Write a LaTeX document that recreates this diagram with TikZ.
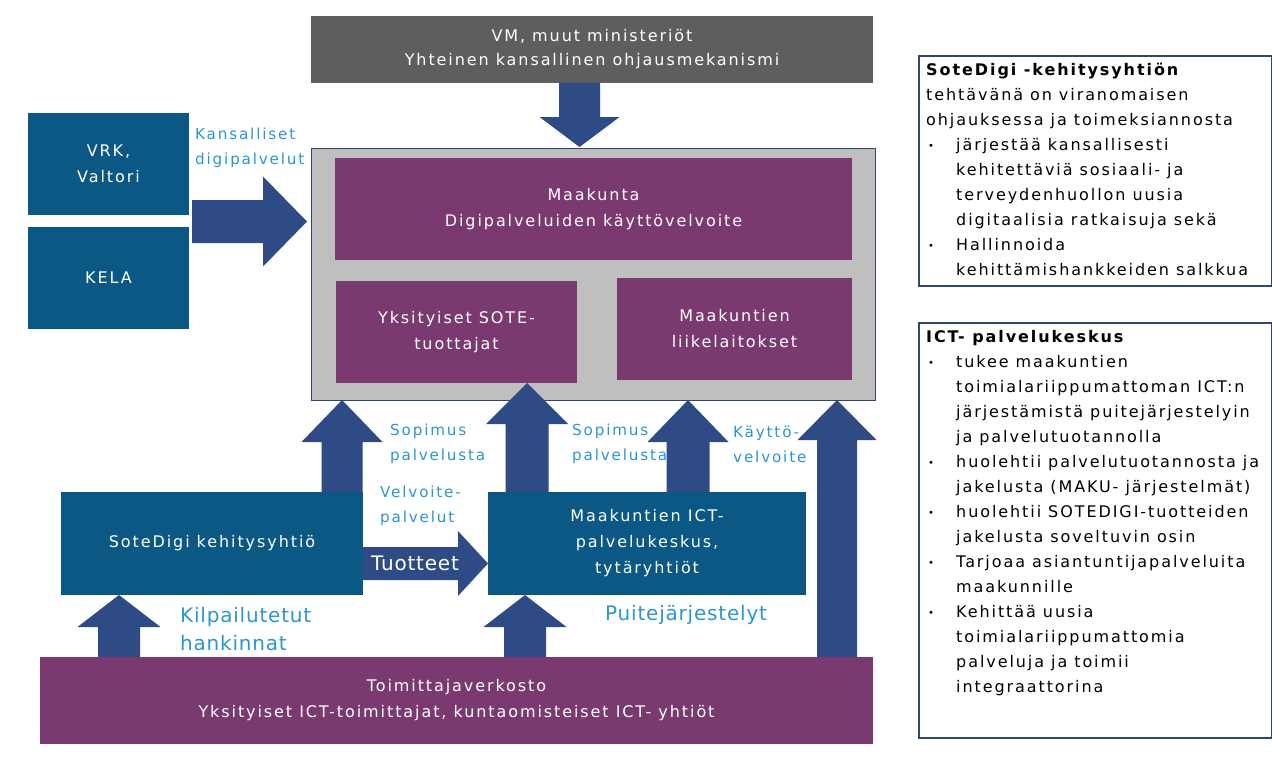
\documentclass[tikz,border=0pt]{standalone}
\usepackage{fontspec}
\setmainfont{DejaVu Sans}[LetterSpace=12]
\definecolor{tealb}{HTML}{0B5884}
\definecolor{purp}{HTML}{7A3A6F}
\definecolor{greyc}{HTML}{BFBFBF}
\definecolor{greyd}{HTML}{5E5E5E}
\definecolor{arrc}{HTML}{2E4B85}
\definecolor{lblc}{HTML}{2C95D2}
\definecolor{navy}{HTML}{2F4670}
% vertical block arrow: x-centre, start y, tip y, shaft half width, head half width, head base y
\newcommand{\blockarrv}[6]{%
  \fill[arrc] ({#1-#4},#2) -- ({#1-#4},#6) -- ({#1-#5},#6) -- (#1,#3) -- ({#1+#5},#6) -- ({#1+#4},#6) -- ({#1+#4},#2) -- cycle;}
% horizontal block arrow: y-centre, start x, tip x, shaft half height, head half height, head base x
\newcommand{\blockarrh}[6]{%
  \fill[arrc] (#2,{#1-#4}) -- (#6,{#1-#4}) -- (#6,{#1-#5}) -- (#3,#1) -- (#6,{#1+#5}) -- (#6,{#1+#4}) -- (#2,{#1+#4}) -- cycle;}
\newcommand{\bul}[1]{\makebox[0pt][l]{\hspace{2pt}\raisebox{1pt}{\fontsize{10}{10}\selectfont •}}\hspace{30pt}#1}
\newcommand{\cont}[1]{\hspace{30pt}#1}
\begin{document}
\begin{tikzpicture}[x=1pt,y=-1pt,
  blk/.style={inner sep=0pt,outer sep=0pt,align=center,text=white,anchor=north west,font=\fontsize{16}{26}\selectfont},
  tealbox/.style={blk,fill=tealb},
  purpbox/.style={blk,fill=purp},
  lbl/.style={inner sep=0pt,align=left,anchor=west,text=lblc,font=\fontsize{15.2}{25}\selectfont},
  biglbl/.style={inner sep=0pt,align=left,anchor=west,text=lblc,font=\fontsize{20}{28}\selectfont\addfontfeature{LetterSpace=4}},
  infobox/.style={draw=navy,line width=2pt,fill=white,inner sep=0pt,anchor=north west},
  infoline/.style={inner sep=0pt,anchor=base west,text=black,font=\fontsize{16}{25}\selectfont}]
\useasboundingbox (0,0) rectangle (1272,760);

% top ministry box
\node[blk,fill=greyd,minimum width=562,minimum height=67,font=\fontsize{16}{24}\selectfont] (vm) at (311,16) {VM, muut ministeriöt\\Yhteinen kansallinen ohjausmekanismi};

% container
\node[draw=navy,fill=greyc,line width=1.2pt,inner sep=0pt,anchor=north west,minimum width=564,minimum height=252] (contr) at (311,148) {};
\node[purpbox,minimum width=517,minimum height=102] (maak) at (335,158) {Maakunta\\Digipalveluiden käyttövelvoite};
\node[purpbox,minimum width=241,minimum height=102] (yks) at (336,281) {Yksityiset SOTE-\\tuottajat};
\node[purpbox,minimum width=235,minimum height=102] (liik) at (617,278) {Maakuntien\\liikelaitokset};

% left boxes
\node[tealbox,minimum width=161,minimum height=102] (vrk) at (28,113) {VRK,\\Valtori};
\node[tealbox,minimum width=161,minimum height=102] (kela) at (28,227) {KELA};

% middle boxes
\node[tealbox,minimum width=302,minimum height=103] (sote) at (61,492) {SoteDigi kehitysyhtiö};
\node[tealbox,minimum width=318,minimum height=103] (ict) at (488,492) {Maakuntien ICT-\\palvelukeskus,\\tytäryhtiöt};

% supplier network
\node[purpbox,minimum width=833,minimum height=87] (toim) at (40,657) {Toimittajaverkosto\\Yksityiset ICT-toimittajat, kuntaomisteiset ICT- yhtiöt};

% block arrows
\blockarrv{579.5}{83}{147}{20.5}{40}{117}
\blockarrh{221.5}{192}{307}{21.5}{45}{263}
\blockarrh{563.5}{363}{488}{16.5}{32.5}{458}
\blockarrv{342}{492}{400}{20.5}{40.5}{442}
\blockarrv{527}{492}{383}{21.5}{41}{424}
\blockarrv{688}{492}{400}{21.5}{40.5}{442}
\blockarrv{837}{657}{400}{20}{39.5}{440}
\blockarrv{119}{657}{595}{21}{41.5}{627}
\blockarrv{525}{657}{595}{21}{41.5}{627}

\node[inner sep=0pt,text=white,font=\fontsize{20}{24}\selectfont\addfontfeature{LetterSpace=4}] (tuot) at (415,563) {Tuotteet};

% labels
\node[lbl] (kans) at (195,147.5) {Kansalliset\\digipalvelut};
\node[lbl] (sop1) at (390,444) {Sopimus\\palvelusta};
\node[lbl] (velv) at (380,505.5) {Velvoite-\\palvelut};
\node[lbl] (sop2) at (572,444) {Sopimus\\palvelusta};
\node[lbl] (kayt) at (733,444) {Käyttö-\\velvoite};
\node[biglbl] (kilp) at (180,629) {Kilpailutetut\\hankinnat};
\node[biglbl] (puit) at (605,615) {Puitejärjestelyt};

% info box 1
\node[infobox,minimum width=353,minimum height=230] (info1) at (918,55) {};
\foreach \t [count=\i] in {
  {\textbf{SoteDigi -kehitysyhtiön}},
  {tehtävänä on viranomaisen},
  {ohjauksessa ja toimeksiannosta},
  {\bul{järjestää kansallisesti}},
  {\cont{kehitettäviä sosiaali- ja}},
  {\cont{terveydenhuollon uusia}},
  {\cont{digitaalisia ratkaisuja sekä}},
  {\bul{Hallinnoida}},
  {\cont{kehittämishankkeiden salkkua}}}
  \node[infoline] (ia\i) at (926,{76+24.9*(\i-1)}) {\t};

% info box 2
\node[infobox,minimum width=353,minimum height=415] (info2) at (918,322) {};
\foreach \t [count=\i] in {
  {\textbf{ICT- palvelukeskus}},
  {\bul{tukee maakuntien}},
  {\cont{toimialariippumattoman ICT:n}},
  {\cont{järjestämistä puitejärjestelyin}},
  {\cont{ja palvelutuotannolla}},
  {\bul{huolehtii palvelutuotannosta ja}},
  {\cont{jakelusta (MAKU- järjestelmät)}},
  {\bul{huolehtii SOTEDIGI-tuotteiden}},
  {\cont{jakelusta soveltuvin osin}},
  {\bul{Tarjoaa asiantuntijapalveluita}},
  {\cont{maakunnille}},
  {\bul{Kehittää uusia}},
  {\cont{toimialariippumattomia}},
  {\cont{palveluja ja toimii}},
  {\cont{integraattorina}}}
  \node[infoline] (ib\i) at (926,{342+25*(\i-1)}) {\t};
\end{tikzpicture}
\end{document}
